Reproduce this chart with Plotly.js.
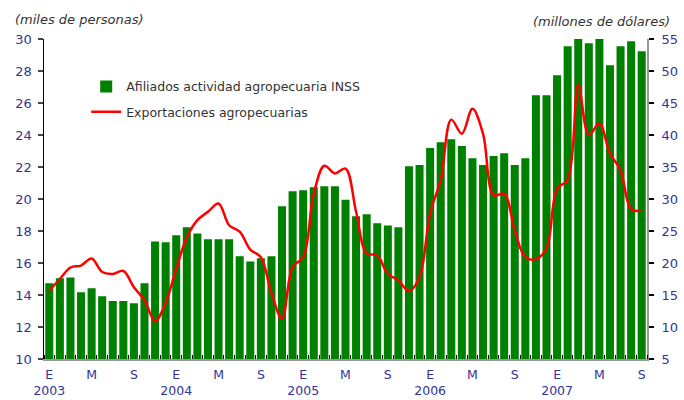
<!DOCTYPE html>
<html>
<head>
<meta charset="utf-8">
<script src="https://cdn.plot.ly/plotly-3.0.1.min.js"></script>
<style>html,body{margin:0;padding:0;background:#fff;}#chart{width:684px;height:400px;}</style>
</head>
<body>
<div id="chart"></div>
<script>
// Months Jan 2003 .. Sep 2007
const months = [
 "2003-01","2003-02","2003-03","2003-04","2003-05","2003-06","2003-07","2003-08","2003-09","2003-10","2003-11","2003-12",
 "2004-01","2004-02","2004-03","2004-04","2004-05","2004-06","2004-07","2004-08","2004-09","2004-10","2004-11","2004-12",
 "2005-01","2005-02","2005-03","2005-04","2005-05","2005-06","2005-07","2005-08","2005-09","2005-10","2005-11","2005-12",
 "2006-01","2006-02","2006-03","2006-04","2006-05","2006-06","2006-07","2006-08","2006-09","2006-10","2006-11","2006-12",
 "2007-01","2007-02","2007-03","2007-04","2007-05","2007-06","2007-07","2007-08","2007-09"
];
// Afiliados actividad agropecuaria INSS (miles de personas)
const afiliados = [
 14.73,15.04,15.10,14.17,14.42,13.92,13.63,13.63,13.48,14.73,17.35,17.29,
 17.73,18.23,17.85,17.48,17.48,17.48,16.42,16.10,16.29,16.42,19.54,20.48,
 20.54,20.73,20.79,20.79,19.95,18.92,19.04,18.48,18.35,18.23,22.04,22.13,
 23.19,23.54,23.73,23.31,22.54,22.13,22.69,22.86,22.13,22.54,26.48,26.48,
 27.73,29.54,30.04,29.73,30.04,28.36,29.54,29.86,29.23
];
// Exportaciones agropecuarias (millones de dólares)
const exportaciones = [
 15.7,17.5,19.3,19.6,20.7,18.6,18.3,18.75,16.2,14.2,10.9,13.8,
 19.1,24.0,26.7,28.0,29.3,25.9,24.9,22.1,20.9,15.3,11.3,19.4,
 20.9,30.8,35.2,34.0,34.75,28.0,21.5,21.2,18.3,17.3,15.6,17.8,
 27.8,33.0,42.4,40.2,44.1,40.2,30.6,30.8,25.1,20.9,20.6,22.3,
 31.6,33.0,47.9,40.0,41.8,37.1,34.5,28.4,28.2
];
const tickPositions = [0,4,8,12,16,20,24,28,32,36,40,44,48,52,56];
const tickLabels = ["E<br>2003","M","S","E<br>2004","M","S","E<br>2005","M","S","E<br>2006","M","S","E<br>2007","M","S"];

const xIdx = months.map((m,i)=>i);
const FONT = "DejaVu Sans, Verdana, sans-serif";
const NAVY = "#333399";

const traces = [
 {type:'bar', x:xIdx, y:afiliados, name:'Afiliados actividad agropecuaria INSS',
  marker:{color:'#008000'}, yaxis:'y', legendgroup:'a', hoverinfo:'skip'},
 {type:'scatter', mode:'lines', x:xIdx, y:exportaciones, name:'Exportaciones agropecuarias',
  line:{color:'#ff0000', width:2.5, shape:'spline', smoothing:1}, yaxis:'y2', legendgroup:'b', hoverinfo:'skip'}
];

const layout = {
 width:684, height:400,
 margin:{l:44, r:37, t:39, b:41},
 paper_bgcolor:'#fff', plot_bgcolor:'#fff',
 font:{family:FONT, size:13, color:'#333'},
 bargap:0.24,
 showlegend:true,
 legend:{x:0.07, y:0.897, xanchor:'left', yanchor:'top', bgcolor:'rgba(0,0,0,0)',
   font:{family:FONT, size:12.5, color:'#333'}, traceorder:'grouped', tracegroupgap:6},
 xaxis:{range:[-0.5,56.5], tickmode:'array', tickvals:tickPositions, ticktext:tickLabels,
   ticks:'', showgrid:false, zeroline:false, showline:true, linecolor:'#999', linewidth:2,
   tickfont:{family:FONT, size:12.5, color:NAVY}, ticklabelstandoff:3,
   minor:{tick0:0.5, dtick:1, ticks:'inside', ticklen:4, tickcolor:'#000', tickwidth:1, showgrid:false}},
 yaxis:{range:[10,30], dtick:2, ticks:'outside', ticklen:5, tickcolor:'#444', tickwidth:1.5,
   showgrid:false, zeroline:false, showline:true, linecolor:'#000', linewidth:1.5,
   tickfont:{family:FONT, size:13, color:NAVY}, ticklabelstandoff:3},
 yaxis2:{range:[5,55], dtick:5, overlaying:'y', side:'right', ticks:'outside', ticklen:5,
   tickcolor:'#000', tickwidth:1.5, showgrid:false, zeroline:false, showline:true,
   linecolor:'#999', linewidth:2, tickfont:{family:FONT, size:13, color:NAVY}, ticklabelstandoff:5},
 yaxis3:{range:[10,30], dtick:2, overlaying:'y', side:'left', ticks:'inside', ticklen:4,
   tickcolor:'#444', tickwidth:1.5, showticklabels:false, showgrid:false, zeroline:false, showline:false},
 yaxis4:{range:[5,55], dtick:5, overlaying:'y', side:'right', ticks:'inside', ticklen:4,
   tickcolor:'#000', tickwidth:1.5, showticklabels:false, showgrid:false, zeroline:false, showline:false},
 annotations:[
  {xref:'paper', yref:'paper', x:-0.051, y:1.0, xanchor:'left', yanchor:'bottom', yshift:10, showarrow:false,
   text:'<i>(miles de personas)</i>', font:{family:FONT, size:13, color:'#333'}},
  {xref:'paper', yref:'paper', x:1.042, y:1.0, xanchor:'right', yanchor:'bottom', yshift:8, showarrow:false,
   text:'<i>(millones de dólares)</i>', font:{family:FONT, size:13, color:'#333'}}
 ]
};

Plotly.newPlot('chart', traces, layout, {displayModeBar:false, staticPlot:true});
</script>
</body>
</html>
